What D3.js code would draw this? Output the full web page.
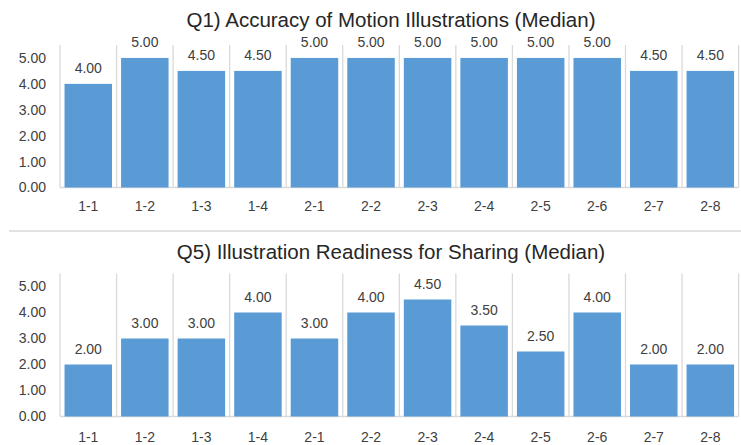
<!DOCTYPE html>
<html><head><meta charset="utf-8">
<script src="https://cdn.jsdelivr.net/npm/d3@7"></script>
<style>
body{margin:0;background:#fff;}
text{font-family:"Liberation Sans",Arial,sans-serif;}
</style></head>
<body><svg id="c" width="741" height="445"></svg>
<script>
const categories = ["1-1","1-2","1-3","1-4","2-1","2-2","2-3","2-4","2-5","2-6","2-7","2-8"];
const q1Values = [4.00,5.00,4.50,4.50,5.00,5.00,5.00,5.00,5.00,5.00,4.50,4.50];
const q5Values = [2.00,3.00,3.00,4.00,3.00,4.00,4.50,3.50,2.50,4.00,2.00,2.00];
const yTicks = [0,1,2,3,4,5];
const titles = ["Q1) Accuracy of Motion Illustrations (Median)","Q5) Illustration Readiness for Sharing (Median)"];

const svg = d3.select("#c");
const x = d3.scaleBand().domain(categories).range([60,738.6]).paddingInner(0.16).paddingOuter(0.08);
const step = x.step();

function panel(values, title, top, base, titleY, labelY){
  const y = d3.scaleLinear().domain([0,5.5]).range([base, top]);
  const g = svg.append("g");
  g.append("text").attr("x",391).attr("y",titleY).attr("text-anchor","middle")
    .attr("font-size",20.5).attr("fill","#262626").text(title);
  // vertical gridlines
  const bounds = categories.map(c => x(c) - step*0.08).concat([x(categories[categories.length-1]) + x.bandwidth() + step*0.08]);
  g.selectAll("line.v").data(bounds).join("line")
    .attr("x1",d=>d).attr("x2",d=>d).attr("y1",y(5.5)).attr("y2",y(0))
    .attr("stroke","#d9d9d9").attr("stroke-width",1.3);
  g.append("line").attr("x1",60).attr("x2",738.6).attr("y1",y(0)).attr("y2",y(0))
    .attr("stroke","#d9d9d9").attr("stroke-width",1.3);
  g.selectAll("rect").data(values).join("rect")
    .attr("x",(d,i)=>x(categories[i])).attr("width",x.bandwidth())
    .attr("y",d=>y(d)).attr("height",d=>y(0)-y(d)).attr("fill","#5b9bd5");
  g.selectAll("text.v").data(values).join("text").attr("class","v")
    .attr("x",(d,i)=>x(categories[i])+x.bandwidth()/2).attr("y",d=>y(d)-11)
    .attr("text-anchor","middle").attr("font-size",14).attr("fill","#404040").text(d=>d.toFixed(2));
  const ya = d3.axisLeft(y).tickValues(yTicks).tickFormat(d=>d.toFixed(2)).tickSize(0).tickPadding(14);
  const ag = g.append("g").attr("transform","translate(60,0)").call(ya);
  ag.select(".domain").remove();
  ag.selectAll("text").attr("font-size",14).attr("fill","#404040").attr("font-family","Liberation Sans, Arial, sans-serif");
  const xa = d3.axisBottom(x).tickSize(0).tickPadding(0);
  const xg = g.append("g").attr("transform",`translate(0,${labelY})`).call(xa);
  xg.select(".domain").remove();
  xg.selectAll("text").attr("font-size",14).attr("fill","#404040").attr("dy","0.35em").attr("font-family","Liberation Sans, Arial, sans-serif");
}
panel(q1Values, titles[0], 45, 187.5, 27, 206);
svg.append("line").attr("x1",9).attr("x2",741).attr("y1",231).attr("y2",231).attr("stroke","#d9d9d9").attr("stroke-width",1.3);
panel(q5Values, titles[1], 273.5, 416.5, 259, 437);
</script></body></html>
